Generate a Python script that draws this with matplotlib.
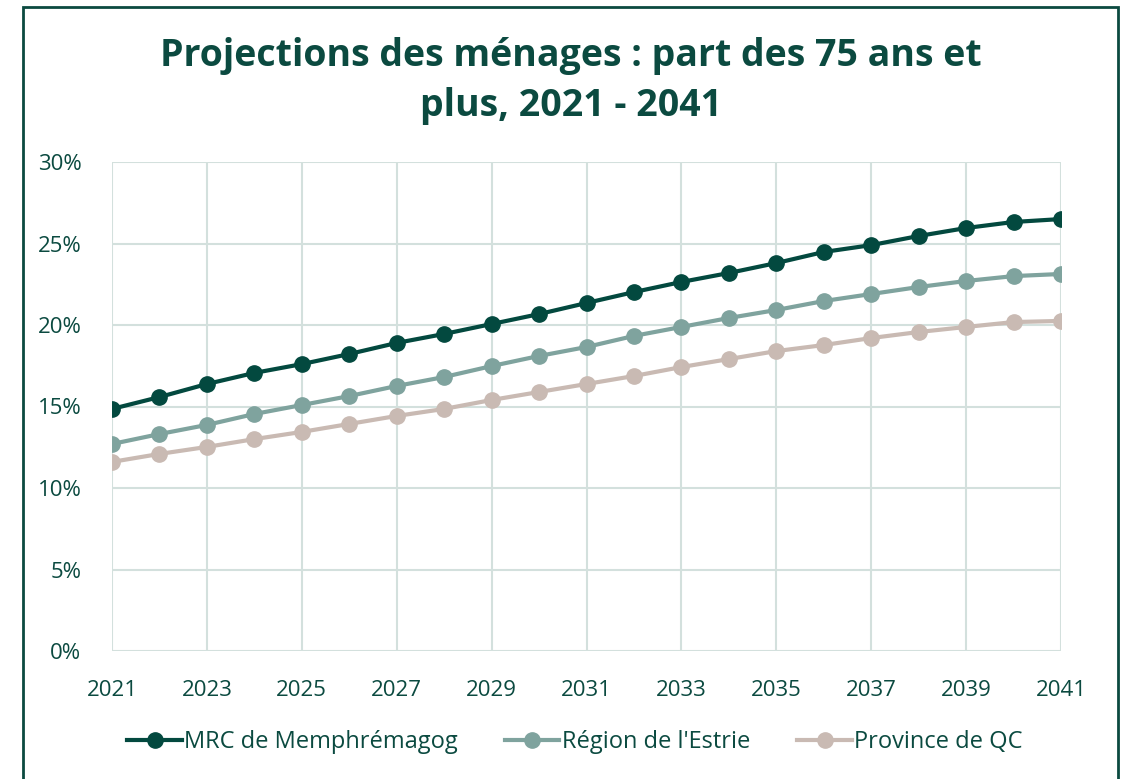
import matplotlib.pyplot as plt
from matplotlib.patches import Rectangle
from matplotlib.ticker import FuncFormatter

plt.rcParams['font.family'] = ['Open Sans', 'DejaVu Sans']

years = list(range(2021, 2042))
mrc = [14.85, 15.58, 16.38, 17.06, 17.6, 18.22, 18.9, 19.45, 20.06, 20.67, 21.35,
       22.02, 22.64, 23.19, 23.8, 24.48, 24.9, 25.46, 25.95, 26.32, 26.5]
estrie = [12.7, 13.31, 13.87, 14.54, 15.09, 15.64, 16.26, 16.81, 17.48, 18.1, 18.65,
          19.33, 19.88, 20.43, 20.92, 21.47, 21.9, 22.33, 22.7, 23.0, 23.13]
qc = [11.6, 12.09, 12.52, 13.0, 13.44, 13.93, 14.42, 14.85, 15.4, 15.89, 16.38,
      16.87, 17.42, 17.91, 18.4, 18.77, 19.2, 19.57, 19.88, 20.18, 20.25]
labels = ['MRC de Memphrémagog', "Région de l'Estrie", 'Province de QC']
colors = ['#03493f', '#7fa39e', '#c9bab3']

txt = '#0b4a40'
grid = '#d3e0dd'

fig = plt.figure(figsize=(11.27, 7.79), dpi=100)
ax = fig.add_axes([112/1127, 1-651/779, (1061-112)/1127, (651-162)/779])

for vals, lab, c in zip([mrc, estrie, qc], labels, colors):
    ax.plot(years, vals, color=c, lw=3, marker='o', ms=11, label=lab, zorder=3)

ax.set_xlim(2021, 2041)
ax.set_ylim(0, 30)
ax.set_xticks(range(2021, 2042, 2))
ax.set_yticks(range(0, 31, 5))
ax.yaxis.set_major_formatter(FuncFormatter(lambda v, p: f'{int(v)}%'))
ax.grid(True, color=grid, lw=1.5, zorder=0)
for s in ax.spines.values():
    s.set_visible(False)
ax.tick_params(length=0, labelsize=16, colors=txt)
ax.tick_params(axis='x', pad=21)
ax.tick_params(axis='y', pad=22)

fig.text(571/1127, 1-81/779, 'Projections des ménages : part des 75 ans et\nplus, 2021 - 2041',
         ha='center', va='center', fontsize=27, fontweight='bold', color=txt,
         linespacing=1.38)

leg = fig.legend(loc='center', bbox_to_anchor=(575/1127, 1-742/779), ncol=3, frameon=False,
                 fontsize=17, handlelength=2.3, columnspacing=2.0, handletextpad=0.1,
                 labelcolor=txt)

fig.patches.append(Rectangle((23/1127, -0.05), (1118-23)/1127, 1.05-7/779,
                             transform=fig.transFigure, fill=False,
                             edgecolor='#0b4a40', lw=2))

fig.savefig('out.png', dpi=100)
